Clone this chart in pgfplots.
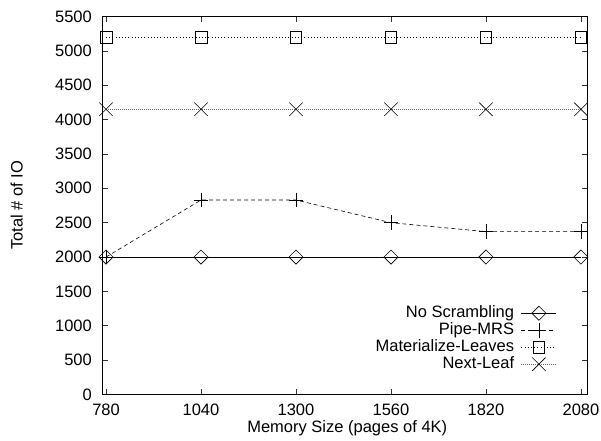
\documentclass[border=0pt]{standalone}
\usepackage{pgfplots}
\pgfplotsset{compat=1.18}
\usepackage{fontspec}
\setmainfont{Liberation Sans}
\begin{document}
\fontsize{16.5bp}{19bp}\selectfont
\begin{tikzpicture}
\begin{axis}[
  at={(0,0)}, anchor=south west,
  scale only axis, width=485.5bp, height=378bp,
  xmin=769, xmax=2098, ymin=0, ymax=5500,
  xtick={780,1040,1300,1560,1820,2080},
  ytick={0,500,...,5500},
  tick align=inside, tick pos=both,
  major tick length=6bp,
  axis line style={line width=0.8pt},
  every tick/.style={black!80, line width=0.6pt},
  /pgf/number format/assume math mode=true,
  /pgf/number format/1000 sep={},
  tick label style={font=\fontsize{16.5bp}{19bp}\selectfont},
  xticklabel style={yshift=-3.5bp},
  yticklabel style={xshift=-4.5bp},
  label style={font=\fontsize{16.5bp}{19bp}\selectfont},
  xlabel={Memory Size (pages of 4K)},
  ylabel={Total \# of IO},
  xlabel style={at={(axis description cs:0.5,0)}, anchor=center, yshift=-33.8bp, xshift=2.5bp},
  ylabel style={at={(axis description cs:0,0.5)}, anchor=center, yshift=85.3bp},
  legend plot pos=right,
  legend cell align=right,
  legend style={draw=none, fill=none, at={(axis description cs:0.937,0.238)}, anchor=north east,
    font=\fontsize{16.5bp}{16.5bp}\selectfont, row sep=0pt, inner sep=0pt,
    nodes={text height=11.5bp, text depth=3.5bp, inner ysep=1bp, inner xsep=2bp},
    /tikz/every odd column/.append style={column sep=5bp}},
  legend image code/.code={\draw[mark repeat=2,mark phase=2,#1] plot coordinates {(0bp,0bp)(17.5bp,0bp)(35bp,0bp)};},
  clip=false,
]
\addplot[black, line width=0.6pt, mark=square, mark size=5bp, mark options={solid, rotate=45, line width=0.6pt}] coordinates {
(780,2000) (1040,2000) (1300,2000) (1560,2000) (1820,2000) (2080,2000)};
\addlegendentry{No Scrambling}
\addplot[black, line width=0.6pt, dash pattern=on 4bp off 3bp, mark=+, mark size=7.3bp, mark options={solid, line width=0.6pt}] coordinates {
(780,2000) (1040,2830) (1300,2830) (1560,2500) (1820,2370) (2080,2370)};
\addlegendentry{Pipe-MRS}
\addplot[black, line width=0.6pt, dash pattern=on 1bp off 2.2bp, mark=square, mark size=5.8bp, mark options={solid, line width=0.6pt}] coordinates {
(780,5200) (1040,5200) (1300,5200) (1560,5200) (1820,5200) (2080,5200)};
\addlegendentry{Materialize-Leaves}
\addplot[black!60, line width=0.6pt, dash pattern=on 0.8bp off 1.2bp, mark=x, mark size=9.5bp, mark options={solid, black, line width=0.6pt}] coordinates {
(780,4150) (1040,4150) (1300,4150) (1560,4150) (1820,4150) (2080,4150)};
\addlegendentry{Next-Leaf}
\end{axis}
\pgfresetboundingbox
\path[use as bounding box] (-102bp,-46.5bp) rectangle (499bp,394.5bp);
\end{tikzpicture}
\end{document}
